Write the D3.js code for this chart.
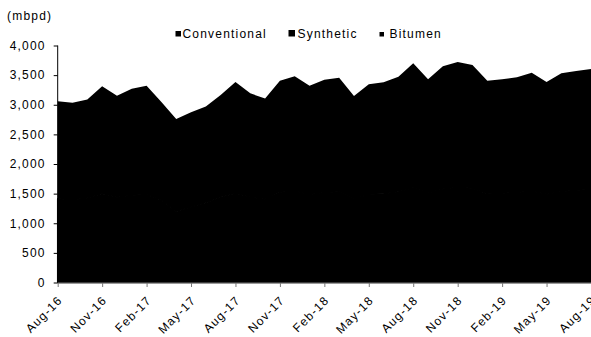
<!DOCTYPE html>
<html>
<head>
<meta charset="utf-8">
<script src="https://cdn.jsdelivr.net/npm/d3@7"></script>
<style>
  html, body { margin: 0; padding: 0; background: #fff; }
  svg { display: block; }
  text { font-family: "Liberation Sans", Arial, sans-serif; font-size: 12px; letter-spacing: 1.2px; fill: #000; }
</style>
</head>
<body>
<svg id="chart" width="591" height="337"></svg>
<script>
// Monthly production, thousand barrels per day
const months = ["Aug-16","Sep-16","Oct-16","Nov-16","Dec-16","Jan-17","Feb-17","Mar-17","Apr-17","May-17","Jun-17","Jul-17",
  "Aug-17","Sep-17","Oct-17","Nov-17","Dec-17","Jan-18","Feb-18","Mar-18","Apr-18","May-18","Jun-18","Jul-18",
  "Aug-18","Sep-18","Oct-18","Nov-18","Dec-18","Jan-19","Feb-19","Mar-19","Apr-19","May-19","Jun-19","Jul-19","Aug-19"];

const conventional = [455,450,452,460,448,452,455,450,440,445,448,452,458,455,450,462,465,455,460,462,445,455,458,462,
  470,460,468,472,470,455,458,460,465,455,462,465,468];
const synthetic = [960,945,975,1040,990,1020,1030,940,760,830,900,985,1050,985,955,1060,1080,1030,1060,1070,960,1035,1040,1070,
  1130,1050,1110,1135,1120,1040,1050,1060,1080,1035,1075,1090,1100];
const bitumen = [1644,1640,1660,1814,1714,1796,1835,1657,1560,1597,1624,1727,1875,1752,1700,1884,1936,1835,1900,1923,1741,1858,1880,1942,
  2100,1919,2072,2116,2081,1911,1921,1943,1995,1893,1993,2015,2037];

const seriesNames = ["Conventional", "Synthetic", "Bitumen"];
const yTicks = [0, 500, 1000, 1500, 2000, 2500, 3000, 3500, 4000];
const xTickLabels = ["Aug-16","Nov-16","Feb-17","May-17","Aug-17","Nov-17","Feb-18","May-18","Aug-18","Nov-18","Feb-19","May-19","Aug-19"];

const rows = months.map((m, i) => ({
  month: m, Conventional: conventional[i], Synthetic: synthetic[i], Bitumen: bitumen[i]
}));

const svg = d3.select("#chart");
const plotLeft = 57.7, plotRight = 591, plotTop = 45.5, plotBottom = 282.5;

const x = d3.scalePoint().domain(months).range([plotLeft, plotRight]);
const y = d3.scaleLinear().domain([0, 4000]).range([plotBottom, plotTop]);

const stacked = d3.stack().keys(seriesNames)(rows);
const area = d3.area()
  .x(d => x(d.data.month))
  .y0(d => y(d[0]))
  .y1(d => y(d[1]));

const colors = { Conventional: "#000", Synthetic: "#000", Bitumen: "#000" };
const topKey = seriesNames[seriesNames.length - 1];

// Stacked layers; lower layers get a matching stroke so no seam shows between them
svg.append("g").selectAll("path")
  .data(stacked)
  .join("path")
  .attr("d", area)
  .attr("fill", d => colors[d.key])
  .attr("stroke", d => d.key === topKey ? "none" : colors[d.key])
  .attr("stroke-width", 1.5)
  .attr("stroke-linejoin", "round");

// Y axis
const yAxis = d3.axisLeft(y).tickValues(yTicks).tickSize(4).tickPadding(8)
  .tickFormat(d3.format(","));
const gy = svg.append("g").attr("transform", `translate(${plotLeft},0)`).call(yAxis);
gy.select(".domain").attr("stroke", "#000").attr("d", `M0,${plotBottom + 0.5}V${plotTop}`);
gy.selectAll(".tick line").attr("stroke", "#000");
gy.selectAll(".tick text").attr("font-size", null).attr("font-family", null);

// X axis
const xAxis = d3.axisBottom(x).tickValues(xTickLabels).tickSize(4).tickFormat(d => d);
const gx = svg.append("g").attr("transform", `translate(0,${plotBottom + 0.5})`).call(xAxis);
gx.select(".domain").attr("stroke", "#777").attr("d", `M${plotLeft},0H${plotRight}`);
gx.selectAll(".tick line").attr("stroke", "#777");
gx.selectAll(".tick text")
  .attr("font-size", null).attr("font-family", null)
  .attr("text-anchor", "end")
  .attr("dy", null).attr("y", null)
  .attr("transform", "translate(5,18) rotate(-45)");

// Unit label
svg.append("text").attr("x", 7).attr("y", 19.5).text("(mbpd)");

// Legend
const legend = [
  { name: "Conventional", sx: 175.5, size: 5.5, tx: 182.5 },
  { name: "Synthetic", sx: 288.5, size: 6.5, tx: 297.5 },
  { name: "Bitumen", sx: 379.5, size: 4.5, tx: 389.5 }
];
const lg = svg.append("g");
lg.selectAll("rect").data(legend).join("rect")
  .attr("x", d => d.sx).attr("y", d => 36.5 - d.size)
  .attr("width", d => d.size).attr("height", d => d.size)
  .attr("fill", d => colors[d.name]);
lg.selectAll("text").data(legend).join("text")
  .attr("x", d => d.tx).attr("y", 38)
  .text(d => d.name);
</script>
</body>
</html>
